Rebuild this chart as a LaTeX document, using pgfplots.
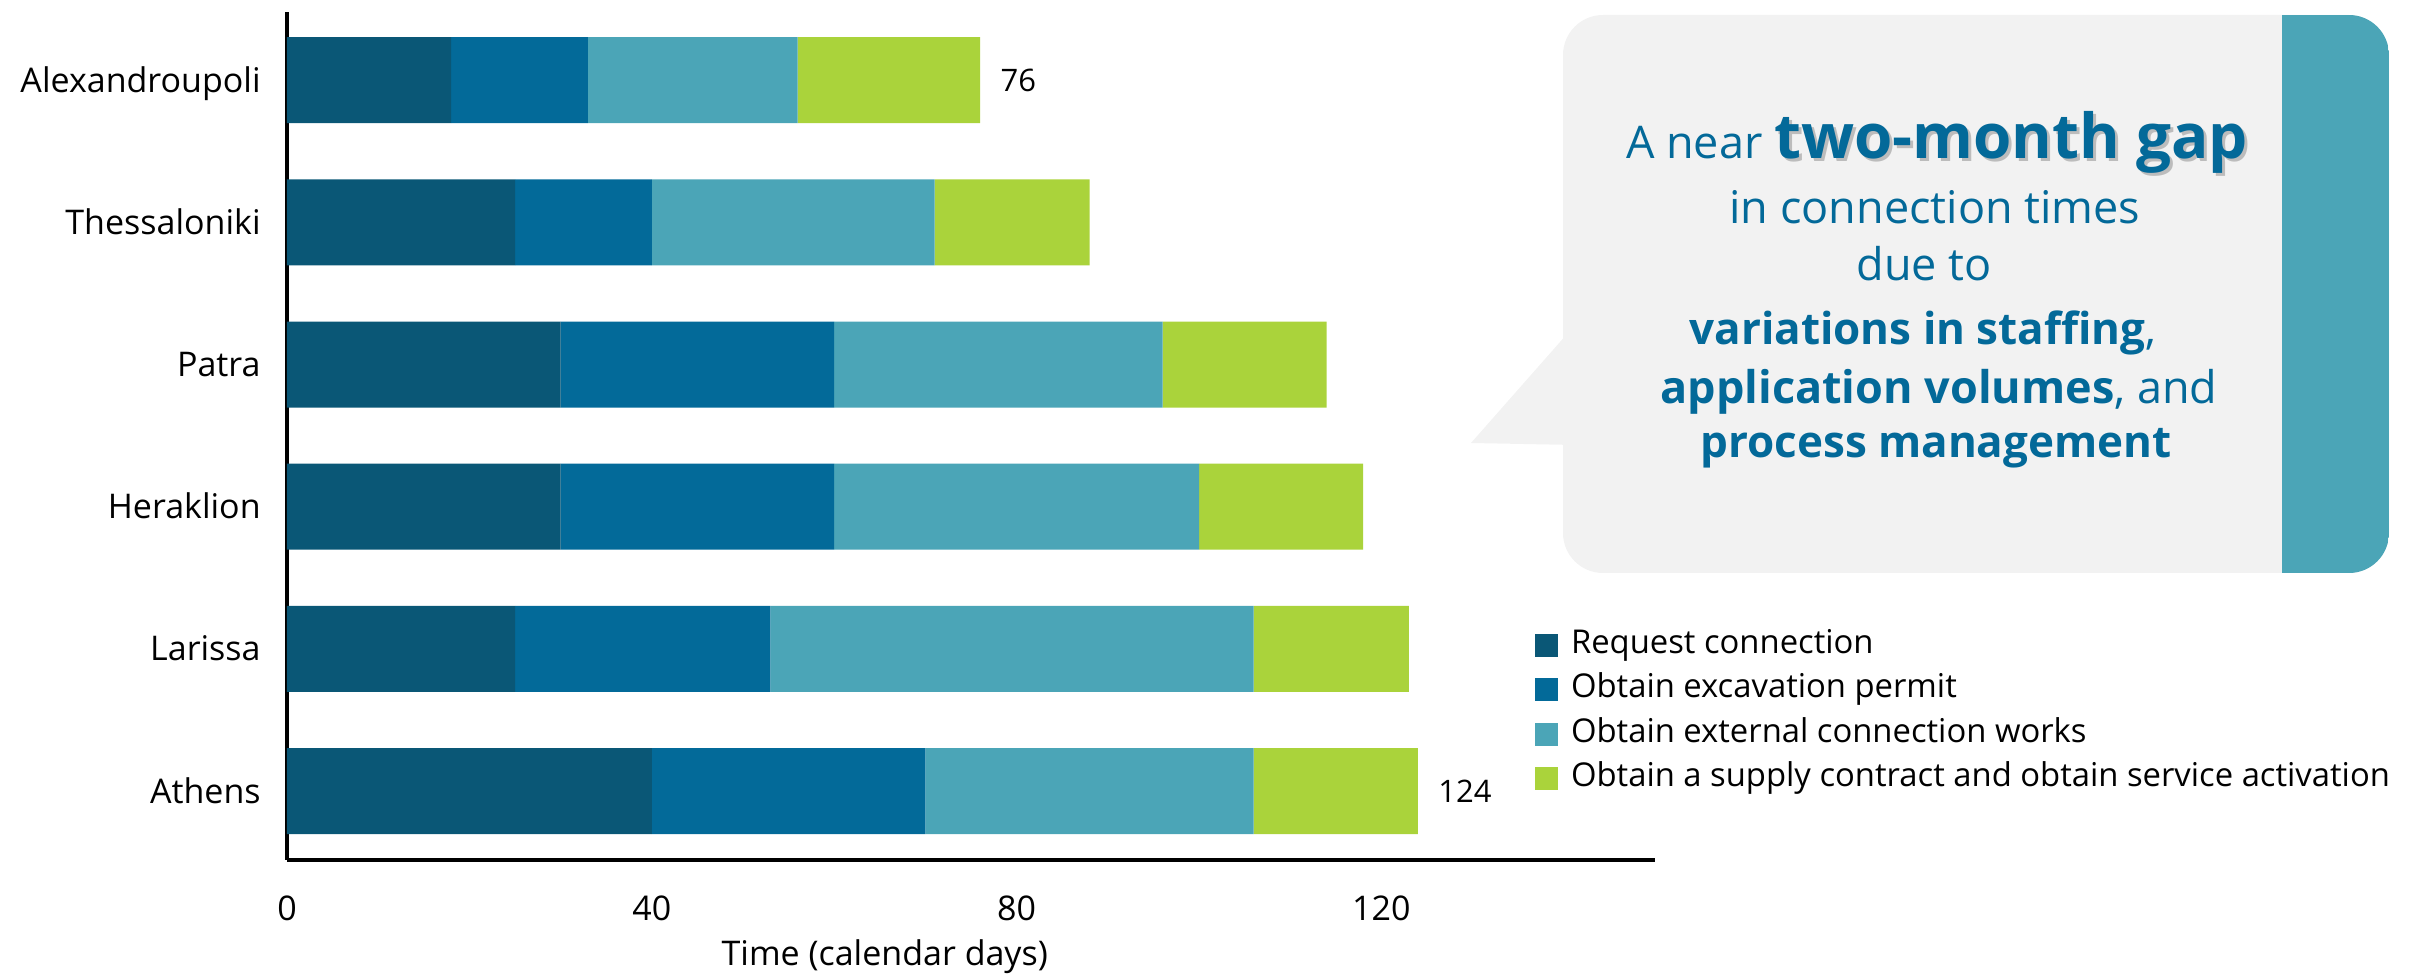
\documentclass[border=0pt]{standalone}
\usepackage{pgfplots}
\pgfplotsset{compat=1.18}
\usepackage{fontspec}
\setmainfont{Open Sans}
\definecolor{c1}{RGB}{10,87,118}
\definecolor{c2}{RGB}{3,106,153}
\definecolor{c3}{RGB}{75,165,183}
\definecolor{c4}{RGB}{170,211,59}
\definecolor{boxgrey}{RGB}{242,242,242}
\definecolor{txtblue}{RGB}{3,105,153}
\begin{document}
\begin{tikzpicture}
\useasboundingbox (0,0) rectangle (1208.5pt,487.5pt);
\begin{scope}[x=0.5pt,y=0.5pt]
\fill[boxgrey] (1575,530) -- (1471,532) -- (1575,650) -- cycle;
\fill[boxgrey, rounded corners=20pt] (1563,402) rectangle (2389,960);
\begin{scope}
\clip[rounded corners=20pt] (1563,402) rectangle (2389,960);
\fill[c3] (2282,402) rectangle (2389,960);
\end{scope}
\node[anchor=base, text=black, opacity=0.22, inner sep=0pt] at (1940,813) {{\fontsize{22.5}{26}\selectfont\phantom{A near }}{\fontsize{31}{36}\selectfont\bfseries two-month gap}};
\node[anchor=base, text=txtblue, inner sep=0pt] at (1937,816) {{\fontsize{22.5}{26}\selectfont A near }{\fontsize{31}{36}\selectfont\bfseries two-month gap}};
\node[anchor=base, text=txtblue, inner sep=0pt, font=\fontsize{22.5}{26}\selectfont] at (1935,751) {in connection times};
\node[anchor=base, text=txtblue, inner sep=0pt, font=\fontsize{22.5}{26}\selectfont] at (1924,694) {due to};
\node[anchor=base, text=txtblue, inner sep=0pt, font=\fontsize{22}{26}\selectfont] at (1923,630) {\textbf{variations in staffing},};
\node[anchor=base, text=txtblue, inner sep=0pt, font=\fontsize{22.5}{26}\selectfont] at (1939,571) {\textbf{application volumes}, and};
\node[anchor=base, text=txtblue, inner sep=0pt, font=\fontsize{22}{26}\selectfont] at (1936,517) {\textbf{process management}};
\end{scope}
\begin{axis}[
  at={(143.5pt,57.5pt)}, anchor=south west,
  scale only axis, width=684pt, height=424pt,
  xbar stacked, bar width=0.605,
  xmin=0, xmax=150, ymin=-0.485, ymax=5.48,
  axis lines*=left,
  axis line style={line width=1.6pt, black},
  xtick={0,40,80,120},
  ytick={0,1,2,3,4,5},
  yticklabels={Athens,Larissa,Heraklion,Patra,Thessaloniki,Alexandroupoli},
  major tick length=0pt,
  /pgf/number format/assume math mode=true,
  tick label style={font=\fontsize{17}{20}\selectfont},
  xticklabel style={anchor=base, yshift=-30.5pt},
  yticklabel style={anchor=base east, inner sep=0pt, xshift=-13pt, yshift=-6pt},
  xlabel={Time (calendar days)},
  xlabel style={font=\fontsize{17}{20}\selectfont, at={(axis description cs:0.437,0)}, anchor=base, yshift=-53pt},
  legend style={at={(0.912,0.275)}, anchor=north west, draw=none, fill=none,
    font=\fontsize{16.4}{19}\selectfont, inner sep=0pt, row sep=4.25pt,
    nodes={inner sep=1pt, text height=12pt, text depth=4pt},
    /tikz/every odd column/.style={column sep=5.5pt}},
  legend cell align=left,
  legend image code/.code={\fill[#1] (0pt,-5.75pt) rectangle (11.5pt,5.75pt);},
  clip=false,
]
\addplot[fill=c1, draw=none] coordinates {(40,0) (25,1) (30,2) (30,3) (25,4) (18,5)};
\addplot[fill=c2, draw=none] coordinates {(30,0) (28,1) (30,2) (30,3) (15,4) (15,5)};
\addplot[fill=c3, draw=none] coordinates {(36,0) (53,1) (40,2) (36,3) (31,4) (23,5)};
\addplot[fill=c4, draw=none] coordinates {(18,0) (17,1) (18,2) (18,3) (17,4) (20,5)};
\legend{Request connection, Obtain excavation permit, Obtain external connection works, Obtain a supply contract and obtain service activation}
\node[anchor=west, inner sep=0pt, xshift=10pt, font=\fontsize{15.5}{18}\selectfont] at (axis cs:76,5) {76};
\node[anchor=west, inner sep=0pt, xshift=10pt, font=\fontsize{15.5}{18}\selectfont] at (axis cs:124,0) {124};
\end{axis}
\end{tikzpicture}
\end{document}
